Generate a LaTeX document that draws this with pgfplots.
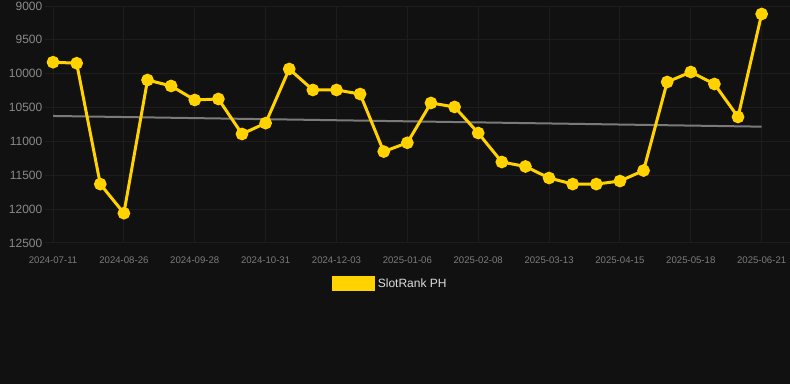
\documentclass[border=0pt]{standalone}
\usepackage{pgfplots}
\pgfplotsset{compat=1.18}
\usepackage{fontspec}
\setmainfont{Liberation Sans}
\definecolor{bg}{HTML}{111111}
\definecolor{gridc}{HTML}{1D1D1D}
\definecolor{gold}{HTML}{FFD200}
\definecolor{trend}{HTML}{7A7A7A}
\definecolor{ticktext}{HTML}{8A8A8A}
\definecolor{xticktext}{HTML}{7C7C7C}
\definecolor{legtext}{HTML}{DDDDDD}
\begin{document}
\begin{tikzpicture}
\fill[bg] (0,0) rectangle (592.5pt,288pt);
\begin{axis}[
  at={(33.75pt,105.75pt)}, anchor=south west,
  scale only axis, width=558.75pt, height=177.75pt,
  xmin=-0.34, xmax=31.2,
  ymin=9000, ymax=12500, y dir=reverse,
  ytick={9000,9500,10000,10500,11000,11500,12000,12500},
  scaled y ticks=false,
  xtick={0,3,...,30},
  xticklabels={2024-07-11,2024-08-26,2024-09-28,2024-10-31,2024-12-03,2025-01-06,2025-02-08,2025-03-13,2025-04-15,2025-05-18,2025-06-21},
  axis line style={draw=none},
  major tick length=0pt,
  grid=major,
  major grid style={gridc, line width=0.75pt},
  /pgf/number format/.cd, fixed, precision=0, set thousands separator={}, assume math mode=true,
  /pgfplots/.cd,
  yticklabel style={font=\fontsize{9pt}{10pt}\selectfont, text=ticktext, xshift=1.5pt},
  xticklabel style={font=\fontsize{7.2pt}{8pt}\selectfont, text=xticktext, yshift=-6.5pt},
  legend style={at={(0.464,-0.173)}, anchor=center, draw=none, fill=none,
    font=\fontsize{9pt}{10pt}\selectfont, text=legtext},
  legend cell align=left,
]
\addplot[trend, line width=1.5pt, forget plot] coordinates {(0,10624) (30,10782)};
\addplot[gold, line width=2.25pt, mark=*, mark size=3.6pt, mark options={fill=gold, draw=none},
  legend image code/.code={\fill[gold] (0pt,-4.5pt) rectangle (30pt,4.5pt);}]
coordinates {
(0,9830) (1,9845) (2,11630) (3,12060) (4,10093) (5,10181) (6,10388) (7,10373)
(8,10890) (9,10730) (10,9930) (11,10240) (12,10240) (13,10300) (14,11150) (15,11020)
(16,10432) (17,10491) (18,10876) (19,11304) (20,11370) (21,11540) (22,11630) (23,11630)
(24,11585) (25,11430) (26,10122) (27,9975) (28,10152) (29,10639) (30,9118)
};
\addlegendentry{SlotRank PH}
\end{axis}
\pgfresetboundingbox
\useasboundingbox (0,0) rectangle (592.5pt,288pt);
\end{tikzpicture}
\end{document}
